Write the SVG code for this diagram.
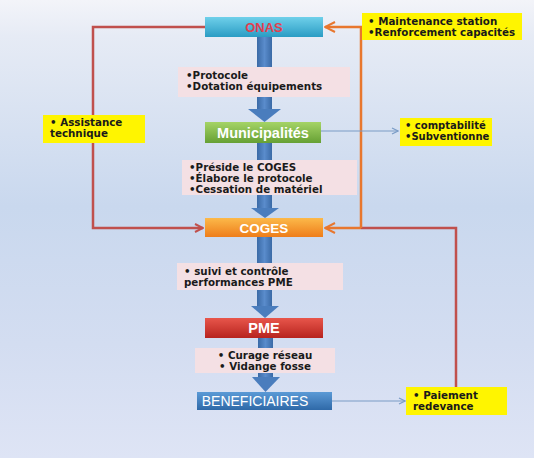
<svg xmlns="http://www.w3.org/2000/svg" width="534" height="458" viewBox="0 0 534 458">
<defs>
<linearGradient id="bg" x1="0" y1="0" x2="0" y2="1">
<stop offset="0" stop-color="#f3f4f9"/>
<stop offset="0.08" stop-color="#e6ebf5"/>
<stop offset="0.45" stop-color="#c9d8ee"/>
<stop offset="0.75" stop-color="#d3ddf1"/>
<stop offset="1" stop-color="#dee4f5"/>
</linearGradient>
<linearGradient id="gOnas" x1="0" y1="0" x2="0" y2="1">
<stop offset="0" stop-color="#6fd0ea"/><stop offset="1" stop-color="#2a9cc4"/>
</linearGradient>
<linearGradient id="gMun" x1="0" y1="0" x2="0" y2="1">
<stop offset="0" stop-color="#a5d466"/><stop offset="1" stop-color="#66a034"/>
</linearGradient>
<linearGradient id="gCog" x1="0" y1="0" x2="0" y2="1">
<stop offset="0" stop-color="#fcb94a"/><stop offset="1" stop-color="#ee7d1a"/>
</linearGradient>
<linearGradient id="gPme" x1="0" y1="0" x2="0" y2="1">
<stop offset="0" stop-color="#e8564b"/><stop offset="1" stop-color="#b7231e"/>
</linearGradient>
<linearGradient id="gBen" x1="0" y1="0" x2="0" y2="1">
<stop offset="0" stop-color="#5b9ad6"/><stop offset="1" stop-color="#2f69a8"/>
</linearGradient>
<linearGradient id="gShaft" x1="0" y1="0" x2="1" y2="0">
<stop offset="0" stop-color="#3a6aa6"/><stop offset="0.5" stop-color="#5a8ccc"/><stop offset="1" stop-color="#3a6aa6"/>
</linearGradient>
<marker id="mRed" markerWidth="10" markerHeight="10" refX="9" refY="5" orient="auto" markerUnits="userSpaceOnUse">
<path d="M1,1 L9,5 L1,9" fill="none" stroke="#c0504d" stroke-width="2"/>
</marker>
<marker id="mOr" markerWidth="12" markerHeight="12" refX="11" refY="6" orient="auto" markerUnits="userSpaceOnUse">
<path d="M1,1 L11,6 L1,11" fill="none" stroke="#e8772e" stroke-width="2"/>
</marker>
<marker id="mBlue" markerWidth="8" markerHeight="8" refX="7" refY="4" orient="auto" markerUnits="userSpaceOnUse">
<path d="M1,1 L7,4 L1,7" fill="none" stroke="#7a9cc6" stroke-width="1.2"/>
</marker>
</defs>
<style>
.lbl{font-family:"DejaVu Sans",Verdana,sans-serif;font-weight:bold;font-size:10.3px;fill:#1a1a1a}
.box{font-family:"Liberation Sans",Arial,sans-serif;font-weight:bold;font-size:14.5px;fill:#ffffff}
.pink{fill:#f4e0e4}
.yel{fill:#fff500}
.red{fill:none;stroke:#c0504d;stroke-width:2.5}
.or{fill:none;stroke:#e8772e;stroke-width:2.5}
.thin{fill:none;stroke:#7a9cc6;stroke-width:1.2}
.shaft{fill:url(#gShaft)}
.head{fill:#4a7dbd}
</style>
<rect x="0" y="0" width="534" height="458" fill="url(#bg)"/>

<g id="connectors">
<path class="red" d="M205,27 H93 V228 H203" marker-end="url(#mRed)"/>
<path class="red" d="M456,387 V228 H361"/>
<path class="or" d="M361,228 H325" marker-end="url(#mOr)"/>
<path class="or" d="M361,228 V27 H325" marker-end="url(#mOr)"/>
<path class="thin" d="M321,131 H398" marker-end="url(#mBlue)"/>
<path class="thin" d="M332,401 H405" marker-end="url(#mBlue)"/>
<rect class="shaft" x="257" y="37" width="15" height="73"/>
<polygon class="head" points="248,109 281,109 264.5,122"/>
<rect class="shaft" x="257" y="143" width="15" height="67"/>
<polygon class="head" points="251,208 279,208 265,218"/>
<rect class="shaft" x="257" y="237" width="15" height="71"/>
<polygon class="head" points="251,306 279,306 265,318"/>
<rect class="shaft" x="258" y="338" width="15" height="40"/>
<polygon class="head" points="252,377 280,377 265.5,392"/>
</g>

<g id="onas">
<rect x="205" y="17" width="118" height="20" fill="url(#gOnas)"/>
<text x="264" y="32" text-anchor="middle" style="font-family:'Liberation Sans',Arial,sans-serif;font-weight:bold;font-size:13px;fill:#e2404e">ONAS</text>
</g>
<g id="note-maintenance">
<rect class="yel" x="362" y="13" width="160" height="27"/>
<text class="lbl" x="368" y="25">• Maintenance station</text>
<text class="lbl" x="368" y="36">•Renforcement capacités</text>
</g>
<g id="note-protocole">
<rect class="pink" x="178" y="67" width="172" height="30"/>
<text class="lbl" x="186" y="79">•Protocole</text>
<text class="lbl" x="186" y="90">•Dotation  équipements</text>
</g>
<g id="note-assistance">
<rect class="yel" x="43" y="115" width="102" height="28"/>
<text class="lbl" x="50" y="126">• Assistance</text>
<text class="lbl" x="50" y="137">technique</text>
</g>
<g id="municipalites">
<rect x="205" y="122" width="116" height="21" fill="url(#gMun)"/>
<text class="box" x="263" y="137.5" text-anchor="middle">Municipalités</text>
</g>
<g id="note-comptabilite">
<rect class="yel" x="400" y="118" width="92" height="28"/>
<text class="lbl" x="405" y="129" style="font-size:10px">• comptabilité</text>
<text class="lbl" x="405" y="140" style="font-size:10px">•Subventionne</text>
</g>
<g id="note-preside">
<rect class="pink" x="182" y="160" width="175" height="35"/>
<text class="lbl" x="189" y="171">•Préside le COGES</text>
<text class="lbl" x="189" y="182">•Élabore le protocole</text>
<text class="lbl" x="189" y="193">•Cessation de matériel</text>
</g>
<g id="coges">
<rect x="205" y="218" width="118" height="19" fill="url(#gCog)"/>
<text class="box" x="264" y="232.5" text-anchor="middle" style="font-size:13.5px">COGES</text>
</g>
<g id="note-suivi">
<rect class="pink" x="177" y="263" width="166" height="27"/>
<text class="lbl" x="184" y="275">• suivi et contrôle</text>
<text class="lbl" x="184" y="286">performances PME</text>
</g>
<g id="pme">
<rect x="205" y="318" width="118" height="20" fill="url(#gPme)"/>
<text class="box" x="264" y="333" text-anchor="middle">PME</text>
</g>
<g id="note-curage">
<rect class="pink" x="195" y="348" width="140" height="25"/>
<text class="lbl" x="265" y="359" text-anchor="middle">•  Curage réseau</text>
<text class="lbl" x="265" y="370" text-anchor="middle">• Vidange fosse</text>
</g>
<g id="beneficiaires">
<rect x="197" y="392" width="135" height="18" fill="url(#gBen)"/>
<text x="255" y="406" text-anchor="middle" style="font-family:'Liberation Sans',Arial,sans-serif;font-size:14px;fill:#ffffff">BENEFICIAIRES</text>
</g>
<g id="note-paiement">
<rect class="yel" x="406" y="387" width="101" height="28"/>
<text class="lbl" x="413" y="399">•  Paiement</text>
<text class="lbl" x="413" y="410">redevance</text>
</g>
</svg>
